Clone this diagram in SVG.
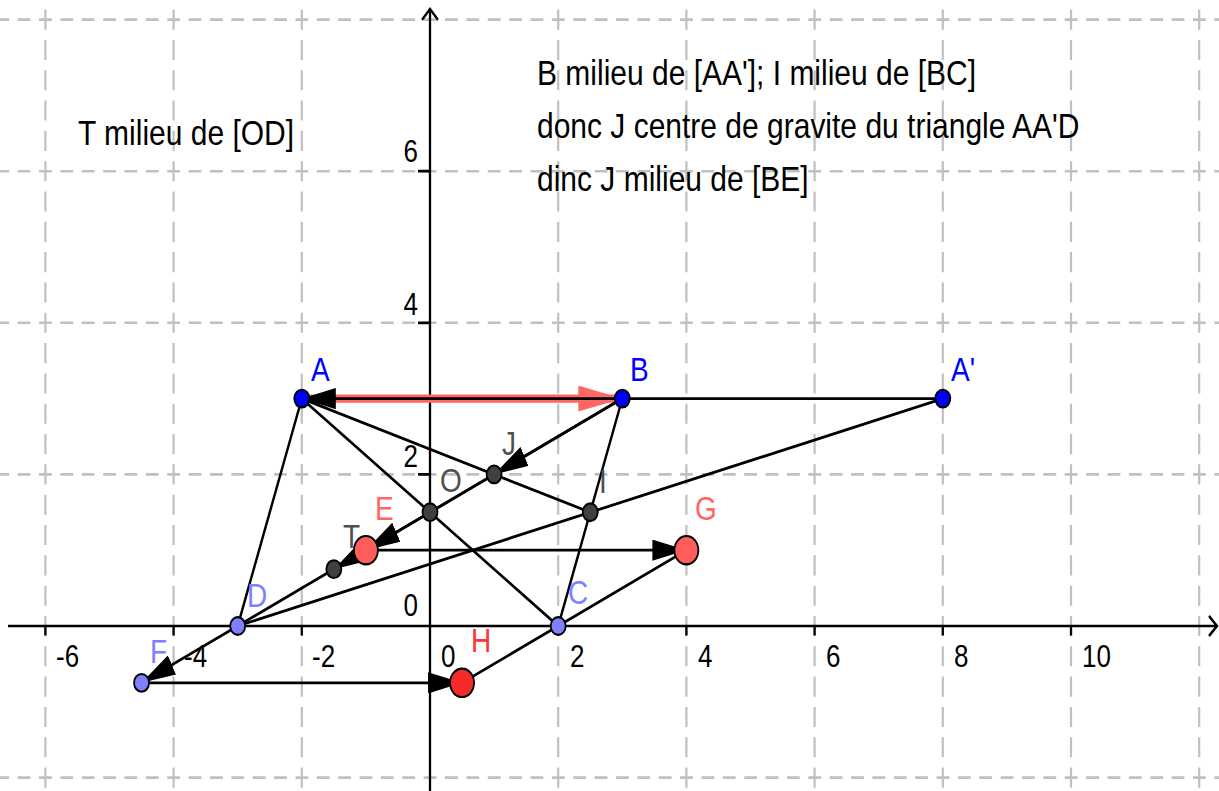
<svg xmlns="http://www.w3.org/2000/svg" width="1219" height="791" viewBox="0 0 1219 791">
<defs>
<style>
.gv{stroke:#c0c0c0;stroke-width:2.2;stroke-dasharray:17 8.64;stroke-dashoffset:8.5;fill:none}
.gh{stroke:#c0c0c0;stroke-width:2.2;stroke-dasharray:12.8 8.57;stroke-dashoffset:6.4;fill:none}
.ax{stroke:#000;stroke-width:2.3;fill:none}
.ln{stroke:#000;stroke-width:2.4;fill:none}
.vec{stroke:#000;stroke-width:2.4;fill:none;marker-end:url(#ah)}
.rvec{stroke:#ff6666;stroke-width:7;fill:none;marker-end:url(#rah)}
.pt{stroke:#000;stroke-width:1.8}
.blue{fill:#0000ff}
.lav{fill:#7f7fff}
.gray{fill:#404040}
.red{fill:#ff5c5c}
.red2{fill:#f52a2a}
text{font-family:"Liberation Sans",Arial,sans-serif}
.num{font-size:26px;fill:#000}
.lbl{font-size:28px}
.txt{font-size:30px;fill:#000}
.cb{fill:#0000ff}
.cl{fill:#7f7fff}
.cg{fill:#505050}
.cr{fill:#ff6666}
.cr2{fill:#ff3333}
</style>
<marker id="ah" markerUnits="userSpaceOnUse" viewBox="0 0 34 18" refX="34" refY="9" markerWidth="34" markerHeight="18" orient="auto"><path d="M0,0 L34,9 L0,18 z" fill="#000"/></marker>
<marker id="rah" markerUnits="userSpaceOnUse" viewBox="0 0 44 22" refX="44" refY="11" markerWidth="44" markerHeight="22" orient="auto"><path d="M0,0 L44,11 L0,22 z" fill="#ff6666"/></marker>
</defs>
<rect x="0" y="0" width="1219" height="791" fill="#fff"/>
<g transform="translate(430 626) scale(1 1.1825)">
<g id="grid">
<path class="gv" d="M-384.6,-564.08V150M-256.4,-564.08V150M-128.2,-564.08V150M128.2,-564.08V150M256.4,-564.08V150M384.6,-564.08V150M512.8,-564.08V150M641,-564.08V150M769.2,-564.08V150"/>
<path class="gh" d="M-512.8,-512.8H800M-512.8,-384.6H800M-512.8,-256.4H800M-512.8,-128.2H800M-512.8,128.2H800"/>
</g>
<g id="axes">
<path class="ax" d="M-422,0H787M779,-8.5L787,0L779,8.5"/>
<path class="ax" d="M0,140V-521.8M-8,-512.5L0,-521.8L8,-512.5"/>
<path class="ax" d="M-384.6,0V8M-256.4,0V8M-128.2,0V8M128.2,0V8M256.4,0V8M384.6,0V8M512.8,0V8M641,0V8"/>
<path class="ax" d="M-12,-128.2H0M-12,-256.4H0M-12,-384.6H0"/>
</g>
<g id="connectors">
<path class="rvec" d="M-128.2,-192.3L192.3,-192.3"/>
<path class="ln" d="M-128.2,-192.3L-192.3,0"/>
<path class="ln" d="M-128.2,-192.3L128.2,0"/>
<path class="ln" d="M-128.2,-192.3L160.25,-96.15"/>
<path class="ln" d="M192.3,-192.3L128.2,0"/>
<path class="ln" d="M-192.3,0L192.3,-192.3"/>
<path class="ln" d="M-192.3,0L512.8,-192.3"/>
<path class="ln" d="M32.05,48.08L256.4,-64.1"/>
<path class="vec" d="M512.8,-192.3L-128.2,-192.3"/>
<path class="vec" d="M192.3,-192.3L64.1,-128.2"/>
<path class="vec" d="M64.1,-128.2L-64.1,-64.1"/>
<path class="vec" d="M-64.1,-64.1L-96.15,-48.08"/>
<path class="vec" d="M-192.3,0L-288.45,48.08"/>
<path class="vec" d="M-288.45,48.08L32.05,48.08"/>
<path class="vec" d="M-64.1,-64.1L256.4,-64.1"/>
</g>
<g id="A"><circle class="pt blue" cx="-128.2" cy="-192.3" r="7.5"/></g>
<g id="B"><circle class="pt blue" cx="192.3" cy="-192.3" r="7.5"/></g>
<g id="A2"><circle class="pt blue" cx="512.8" cy="-192.3" r="7.5"/></g>
<g id="C"><circle class="pt lav" cx="128.2" cy="0" r="7.5"/></g>
<g id="D"><circle class="pt lav" cx="-192.3" cy="0" r="7.5"/></g>
<g id="F"><circle class="pt lav" cx="-288.45" cy="48.08" r="7.5"/></g>
<g id="O"><circle class="pt gray" cx="0" cy="-96.15" r="7.5"/></g>
<g id="I"><circle class="pt gray" cx="160.25" cy="-96.15" r="7.5"/></g>
<g id="J"><circle class="pt gray" cx="64.1" cy="-128.2" r="7.5"/></g>
<g id="T"><circle class="pt gray" cx="-96.15" cy="-48.08" r="7.5"/></g>
<g id="E"><circle class="pt red" cx="-64.1" cy="-64.1" r="12"/></g>
<g id="G"><circle class="pt red" cx="256.4" cy="-64.1" r="12"/></g>
<g id="H"><circle class="pt red2" cx="32.05" cy="48.08" r="12"/></g>
</g>
<g id="axis-labels" class="num">
<text transform="translate(56 667) scale(1 1.18)">-6</text>
<text transform="translate(184 667) scale(1 1.18)">-4</text>
<text transform="translate(312 667) scale(1 1.18)">-2</text>
<text transform="translate(441 667) scale(1 1.18)">0</text>
<text transform="translate(570 667) scale(1 1.18)">2</text>
<text transform="translate(698 667) scale(1 1.18)">4</text>
<text transform="translate(826 667) scale(1 1.18)">6</text>
<text transform="translate(954 667) scale(1 1.18)">8</text>
<text transform="translate(1082 667) scale(1 1.18)">10</text>
<text transform="translate(418 162) scale(1 1.18)" text-anchor="end">6</text>
<text transform="translate(418 315) scale(1 1.18)" text-anchor="end">4</text>
<text transform="translate(418 467) scale(1 1.18)" text-anchor="end">2</text>
<text transform="translate(418 616) scale(1 1.18)" text-anchor="end">0</text>
</g>
<g id="point-labels" class="lbl">
<text class="cb" transform="translate(311 381) scale(1 1.18)">A</text>
<text class="cb" transform="translate(630 381) scale(1 1.18)">B</text>
<text class="cb" transform="translate(951 381) scale(1 1.18)">A'</text>
<text class="cg" transform="translate(502 455) scale(1 1.18)">J</text>
<text class="cg" transform="translate(440 492) scale(1 1.18)">O</text>
<text class="cg" transform="translate(599 493) scale(1 1.18)">I</text>
<text class="cr" transform="translate(375 520) scale(1 1.18)">E</text>
<text class="cg" transform="translate(343 548) scale(1 1.18)">T</text>
<text class="cr" transform="translate(695 520) scale(1 1.18)">G</text>
<text class="cl" transform="translate(568 604) scale(1 1.18)">C</text>
<text class="cl" transform="translate(247 607) scale(1 1.18)">D</text>
<text class="cl" transform="translate(150 663) scale(1 1.18)">F</text>
<text class="cr2" transform="translate(471 652) scale(1 1.18)">H</text>
</g>
<g id="notes" class="txt">
<text transform="translate(78 145) scale(1 1.18)">T milieu de [OD]</text>
<text transform="translate(537 85) scale(1 1.18)">B milieu de [AA']; I milieu de [BC]</text>
<text transform="translate(537 138) scale(1 1.18)">donc J centre de gravite du triangle AA'D</text>
<text transform="translate(537 191) scale(1 1.18)">dinc J milieu de [BE]</text>
</g>
</svg>
